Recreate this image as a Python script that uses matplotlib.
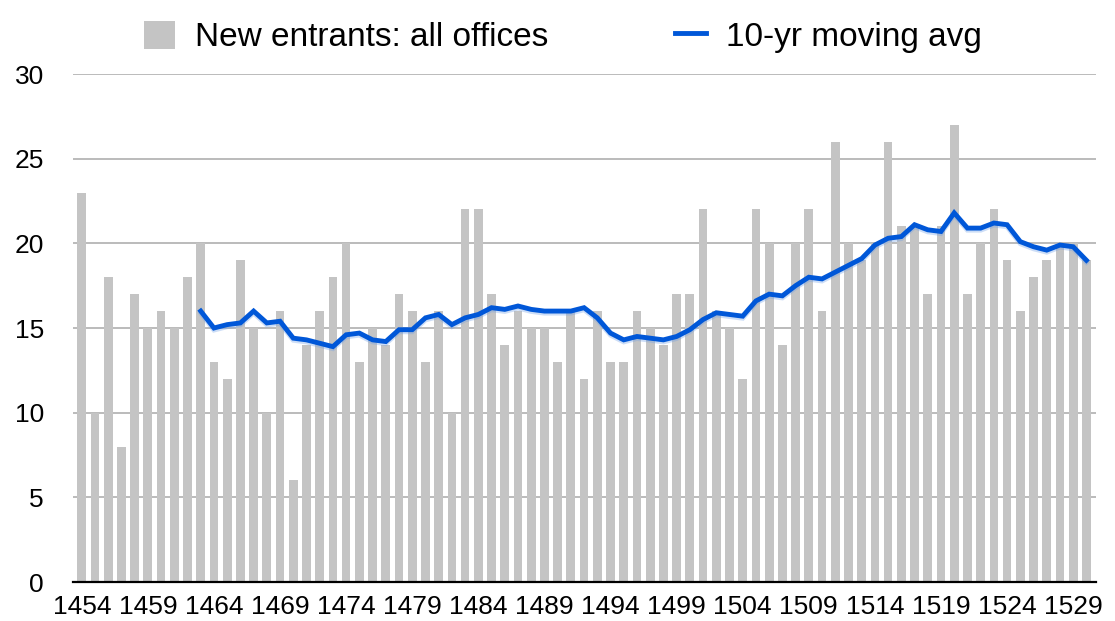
#!/usr/bin/env python3
"""New entrants per year with a 10-year moving average."""

import matplotlib

matplotlib.use("Agg")
import matplotlib.pyplot as plt
import matplotlib.patheffects as pe
from matplotlib.lines import Line2D
from matplotlib.patches import Rectangle
import numpy as np

years = list(range(1454, 1531))
entrants = [
    23, 10, 18, 8, 17, 15, 16, 15, 18, 20,
    13, 12, 19, 15, 10, 16, 6, 14, 16, 18,
    20, 13, 15, 14, 17, 16, 13, 16, 10, 22,
    22, 17, 14, 16, 15, 15, 13, 16, 12, 16,
    13, 13, 16, 15, 14, 17, 17, 22, 16, 15,
    12, 22, 20, 14, 20, 22, 16, 26, 20, 19,
    20, 26, 21, 21, 17, 21, 27, 17, 20, 22,
    19, 16, 18, 19, 20, 20, 19,
]
avg_years = list(range(1463, 1531))
moving_avg = [
    16.0, 15.0, 15.2, 15.3, 16.0, 15.3, 15.4, 14.4, 14.3, 14.1,
    13.9, 14.6, 14.7, 14.3, 14.2, 14.9, 14.9, 15.6, 15.8, 15.2,
    15.6, 15.8, 16.2, 16.1, 16.3, 16.1, 16.0, 16.0, 16.0, 16.2,
    15.6, 14.7, 14.3, 14.5, 14.4, 14.3, 14.5, 14.9, 15.5, 15.9,
    15.8, 15.7, 16.6, 17.0, 16.9, 17.5, 18.0, 17.9, 18.3, 18.7,
    19.1, 19.9, 20.3, 20.4, 21.1, 20.8, 20.7, 21.8, 20.9, 20.9,
    21.2, 21.1, 20.1, 19.8, 19.6, 19.9, 19.8, 19.0,
]

BAR_COLOR = "#C4C4C4"
LINE_COLOR = "#0057D8"

plt.rcParams["font.family"] = ["Liberation Sans", "DejaVu Sans"]
plt.rcParams["font.size"] = 19

fig = plt.figure(figsize=(11.15, 6.21), dpi=100)
ax = fig.add_axes([0.0655, 0.0628, 0.9175, 0.818])

ax.bar(years, entrants, width=0.66, color=BAR_COLOR, zorder=2)
ax.plot(
    avg_years,
    moving_avg,
    color=LINE_COLOR,
    linewidth=3.5,
    solid_joinstyle="miter",
    zorder=3,
    path_effects=[
        pe.SimpleLineShadow(offset=(0, -1.5), shadow_color="#6FA0E8", alpha=0.35),
        pe.Normal(),
    ],
)

ax.set_xlim(years[0] - 0.66, years[-1] + 0.73)
ax.set_ylim(0, 30)
ax.set_yticks(np.arange(0, 31, 5))
ax.set_xticks(years[::5])
ax.set_xticklabels([str(y) for y in years[::5]])
ax.tick_params(axis="y", length=0, pad=21)
ax.tick_params(axis="x", length=0, pad=9)
ax.grid(axis="y", color="#BBBBBB", linewidth=1.4, zorder=0)
ax.set_axisbelow(True)
for side in ("left", "right", "top"):
    ax.spines[side].set_visible(False)
ax.spines["bottom"].set_linewidth(1.6)
ax.spines["bottom"].set_zorder(4)

handles = [
    Rectangle((0, 0), 1, 1, facecolor=BAR_COLOR, edgecolor="none"),
    Line2D([0], [0], color=LINE_COLOR, linewidth=3.5),
]
fig.legend(
    handles,
    ["New entrants: all offices", "10-yr moving avg"],
    loc="upper center",
    bbox_to_anchor=(0.505, 1.015),
    ncol=2,
    frameon=False,
    fontsize=24,
    handlelength=0.93,
    handleheight=0.92,
    handletextpad=0.6,
    columnspacing=3.8,
)

fig.savefig("out.png", dpi=100)
